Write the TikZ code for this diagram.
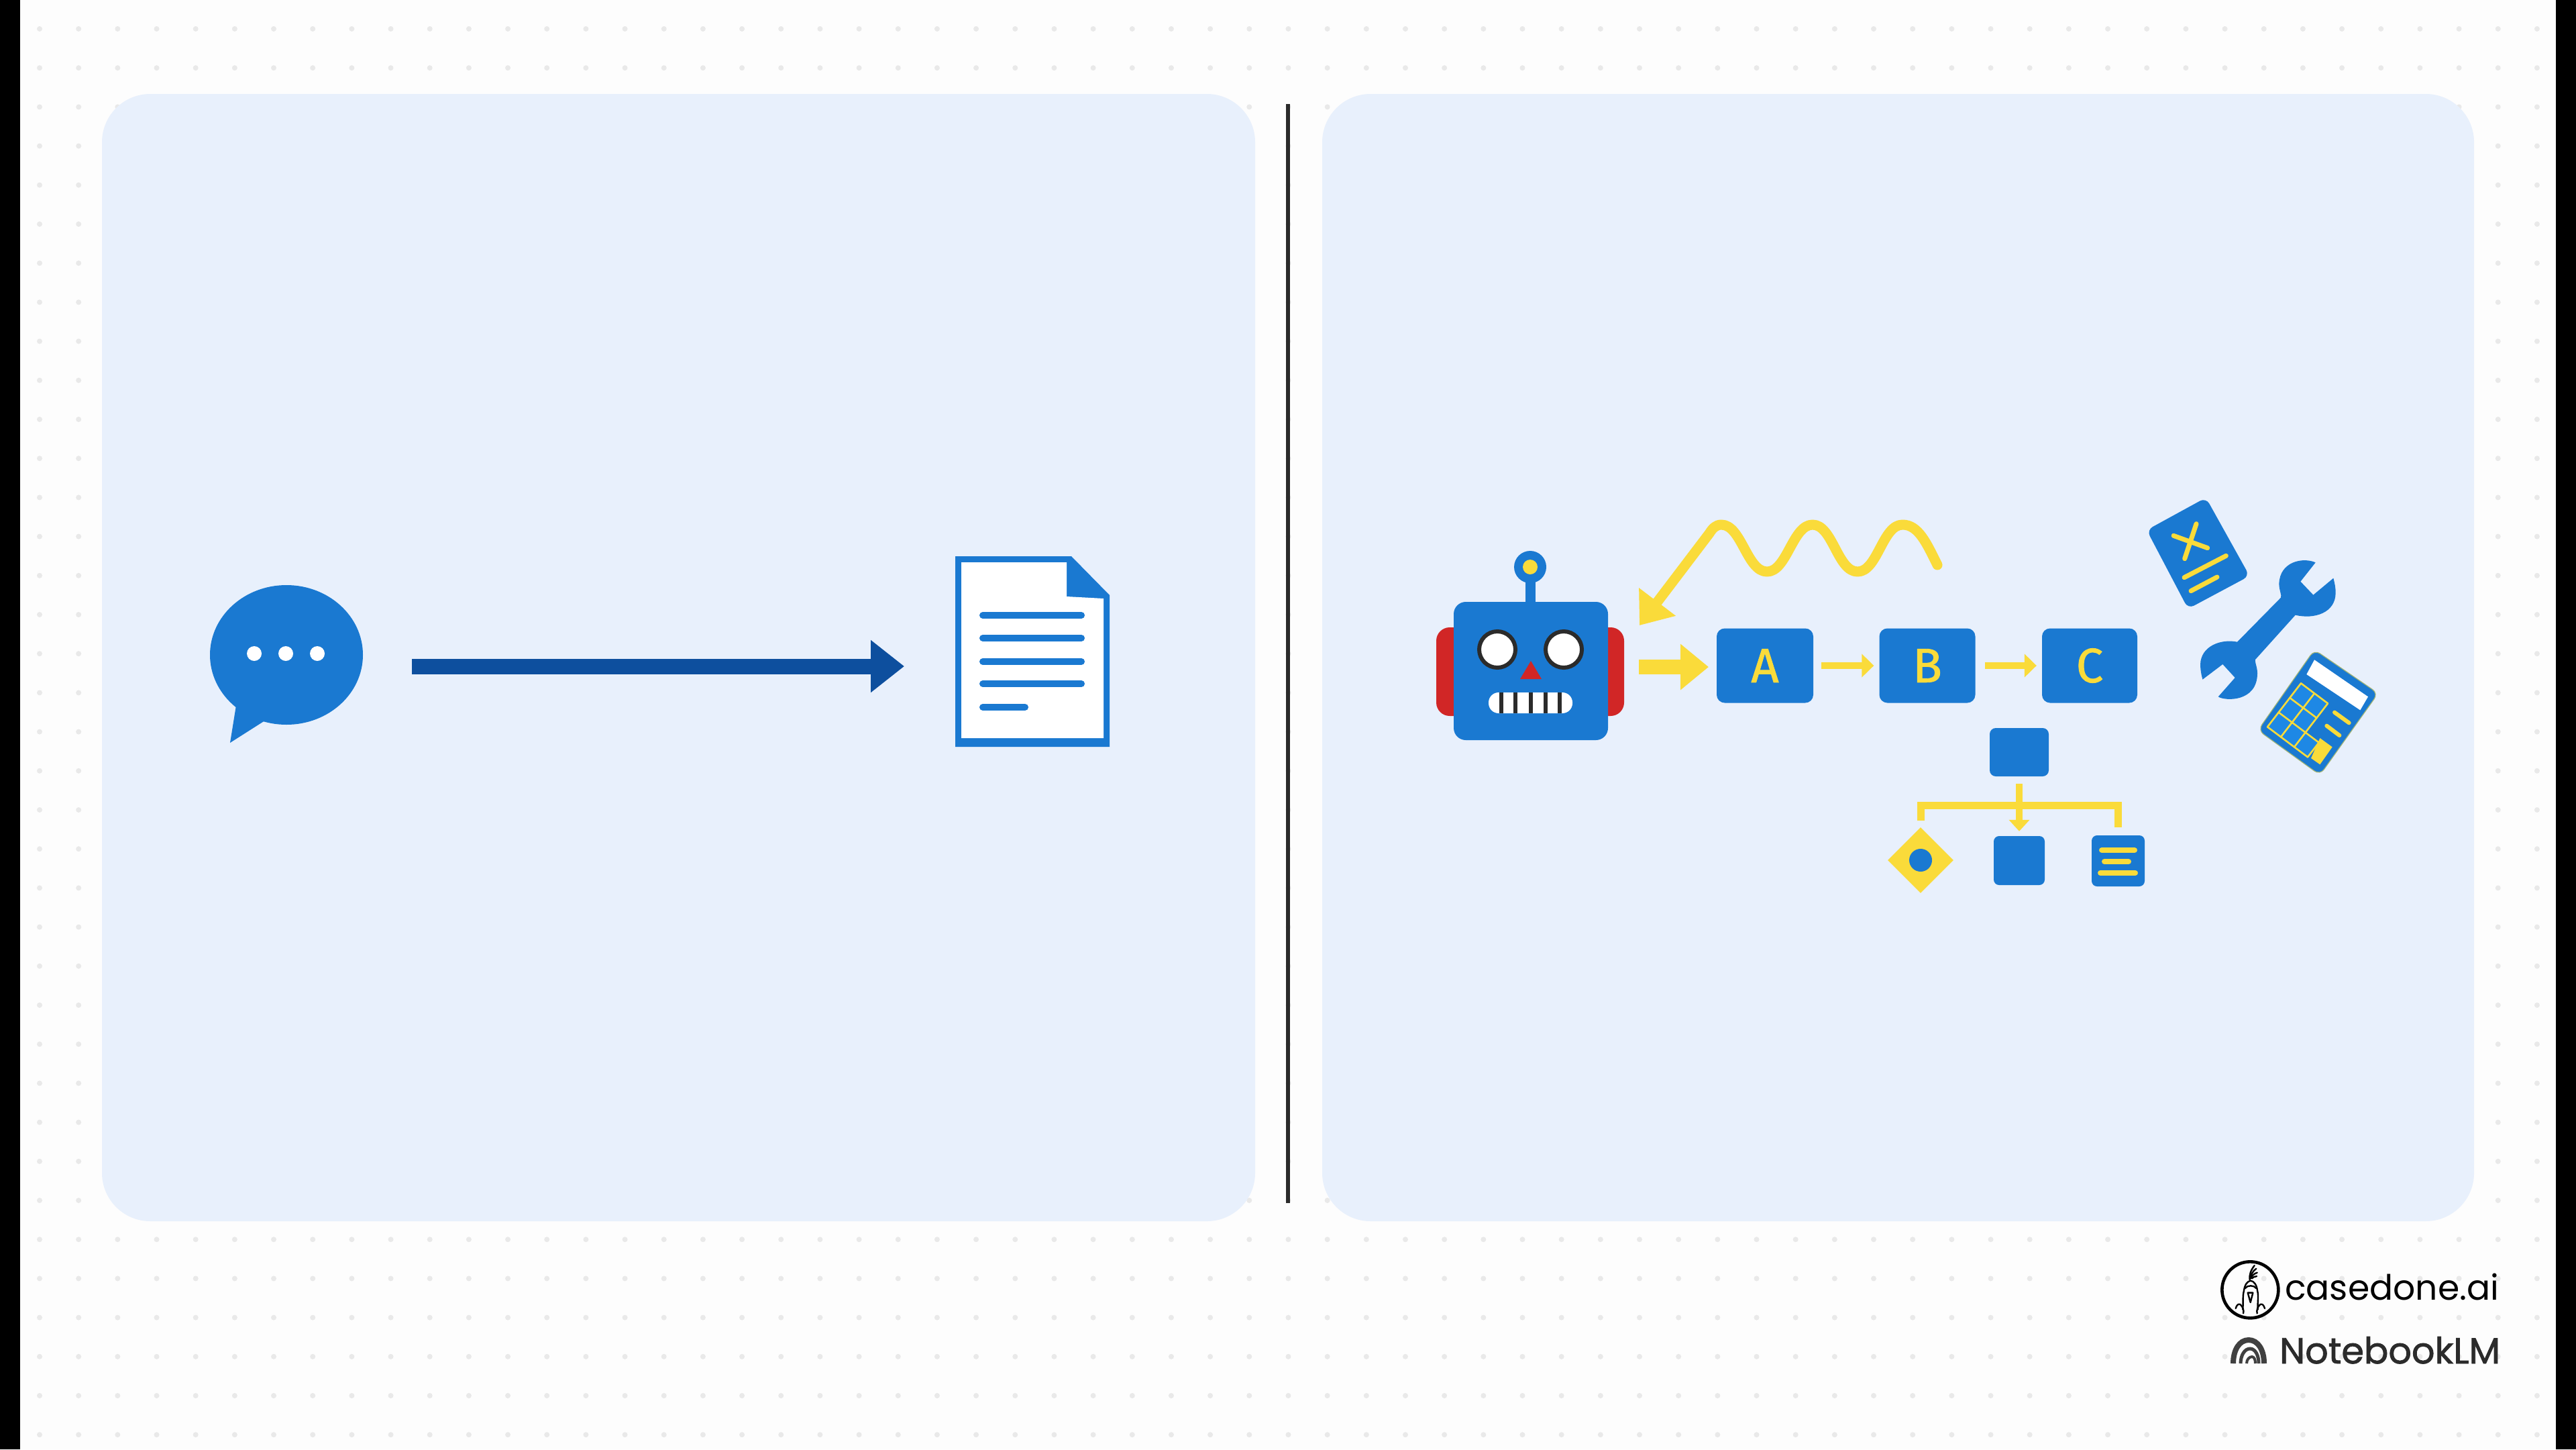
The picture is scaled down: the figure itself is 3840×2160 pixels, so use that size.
\documentclass[tikz,border=0pt]{standalone}
\usepackage{fontspec}
\usetikzlibrary{arrows.meta,shapes.geometric,calc}
\newfontfamily\boxfont[FakeBold=1.2]{Fira Sans}
\newfontfamily\brandfont{Poppins}
\newfontfamily\nlmfont[FakeBold=1.5]{Poppins}
\definecolor{pagebg}{HTML}{FDFDFD}
\definecolor{griddot}{HTML}{E9E9E9}
\definecolor{panelbg}{HTML}{E8F0FC}
\definecolor{iconblue}{HTML}{1A79D1}
\definecolor{keyblue}{HTML}{1E88E5}
\definecolor{deepblue}{HTML}{0D4F9E}
\definecolor{sun}{HTML}{FADB3A}
\definecolor{robotred}{HTML}{D12626}
\definecolor{inkdark}{HTML}{2B2B2B}
\tikzset{
  panelbox/.style={fill=panelbg,rounded corners=72pt},
  bluebox/.style={fill=iconblue,rounded corners=12pt,inner sep=0pt,text=sun},
  deeparrow/.style={draw=deepblue,line width=23pt,-{Triangle[length=50pt,width=75pt]}},
  sunarrow/.style={draw=sun,line width=22pt,-{Triangle[length=42pt,width=66pt]}},
  smallarrow/.style={draw=sun,line width=10pt,-{Triangle[length=18pt,width=34pt]}},
  busline/.style={draw=sun,line width=11pt},
  wavy/.style={draw=sun,line width=15pt,line cap=round,line join=round,-{Triangle[length=44pt,width=66pt]}},
  barline/.style={draw=sun,line width=8pt,line cap=round},
  gridkey/.style={draw=sun,line width=2.6pt,line cap=round},
  logoline/.style={draw=black,line width=2.4pt,line join=round,line cap=round},
  nlmarc/.style={draw=inkdark!90,line cap=butt},
  doctext/.style={draw=iconblue,line width=10pt,line cap=round},
  boxletter/.style={font=\boxfont\fontsize{72}{80}\selectfont}
}
\begin{document}
\begin{tikzpicture}[x=1pt,y=-1pt]
\useasboundingbox (0,0) rectangle (3840,2160);
\fill[pagebg] (0,0) rectangle (3840,2160);
\foreach \i in {0,...,64}{\foreach \j in {0,...,36}{
  \fill[griddot] ({59+58.17*\i},{43+58.2*\j}) circle[radius=4pt];}}
\fill[black] (0,0) rectangle (30,2160);
\fill[black] (3810,0) rectangle (3840,2160);
% panels
\path[panelbox] (152,140) rectangle (1871,1820);
\path[panelbox] (1971,140) rectangle (3688,1820);
\draw[inkdark,line width=6.5pt] (1920,155) -- (1920,1793);
% chat bubble
\fill[iconblue] (353,1045) -- (343,1107) -- (398,1072) -- cycle;
\node[ellipse,fill=iconblue,inner sep=0pt,minimum width=228pt,minimum height=208pt] (bubble) at (427,976) {};
\foreach \x in {379,426,473}{\fill[white] (\x,974) circle[radius=11pt];}
% document
\fill[iconblue] (1424,829) -- (1597,829) -- (1654,887) -- (1654,1113) -- (1424,1113) -- cycle;
\fill[white] (1433,838) -- (1590,838) -- (1590,889) -- (1645,892) -- (1645,1100) -- (1433,1100) -- cycle;
\foreach \y in {917,951,986,1019}{\draw[doctext] (1465,\y) -- (1612,\y);}
\draw[doctext] (1465,1054) -- (1528,1054);
\coordinate (chatout) at (614,993);
\coordinate (docin) at (1348,993);
\draw[deeparrow] (chatout) -- (docin);
% robot
\fill[robotred,rounded corners=20pt] (2141,935) rectangle (2421,1067);
\draw[iconblue,line width=15pt] (2281,865) -- (2281,900);
\node[fill=iconblue,rounded corners=18pt,inner sep=0pt,minimum width=230pt,minimum height=206pt] (robot) at (2282,1000) {};
\fill[iconblue] (2281,845) ellipse[x radius=24pt,y radius=24pt];
\fill[sun] (2281,845) ellipse[x radius=11pt,y radius=11pt];
\foreach \x in {2232,2331}{\fill[white,draw=inkdark,line width=6pt] (\x,968) circle[radius=27pt];}
\fill[robotred] (2282,985) -- (2298,1012) -- (2266,1012) -- cycle;
\fill[white,rounded corners=15pt] (2219,1032) rectangle (2344,1063);
\foreach \x in {2238,2259,2282,2304,2325}{\draw[inkdark,line width=6.5pt] (\x,1032) -- (\x,1063);}
% process
\node[bluebox,boxletter,minimum width=144pt,minimum height=111pt] (boxA) at (2631,992) {A};
\node[bluebox,boxletter,minimum width=143pt,minimum height=111pt] (boxB) at (2873,992) {B};
\node[bluebox,boxletter,minimum width=142pt,minimum height=111pt] (boxC) at (3115,992) {C};
\coordinate (robotout) at (2443,994);
\coordinate (robotarrowtip) at (2547,994);
\draw[sunarrow] (robotout) -- (robotarrowtip);
\draw[smallarrow,shorten <=12pt,shorten >=8pt] (boxA) -- (boxB);
\draw[smallarrow,shorten <=14pt,shorten >=8pt] (boxB) -- (boxC);
% wave
\coordinate (wavestart) at (2888,842);
\coordinate (waveend) at (2444,932);
\draw[wavy] (wavestart) .. controls (2872,810) and (2860,782) .. (2836,782)
  .. controls (2806,782) and (2799,852) .. (2769,852)
  .. controls (2739,852) and (2732,782) .. (2702,782)
  .. controls (2672,782) and (2664,852) .. (2634,852)
  .. controls (2604,852) and (2596,782) .. (2566,782)
  .. controls (2558,782) and (2553,787) .. (2548,795) -- (waveend);
% flow
\node[fill=iconblue,rounded corners=9pt,inner sep=0pt,minimum width=88pt,minimum height=72pt] (topbox) at (3010,1121) {};
\node[diamond,fill=sun,inner sep=0pt,minimum width=98pt,minimum height=98pt] (choice) at (2863,1282) {};
\fill[iconblue] (choice) circle[radius=17pt];
\node[fill=iconblue,rounded corners=8pt,inner sep=0pt,minimum width=76pt,minimum height=73pt] (midbox) at (3010,1282.5) {};
\node[fill=iconblue,rounded corners=8pt,inner sep=0pt,minimum width=79pt,minimum height=76pt] (listbox) at (3157.5,1283) {};
\draw[barline] (3133,1267) -- (3182,1267);
\draw[barline] (3137,1284) -- (3173,1284);
\draw[barline] (3131,1301) -- (3183,1301);
\coordinate (busmid) at (3010,1200);
\draw[busline,shorten <=10pt,shorten >=12pt] (choice.north) |- (busmid) -| (listbox.north);
\draw[draw=sun,line width=10pt,-{Triangle[length=17pt,width=30pt]},shorten <=11pt,shorten >=7pt] (topbox) -- (midbox);
% tools
\begin{scope}[shift={(3150,700)},x=.33333pt,y=-.33333pt]
  % formula card
  \fill[iconblue,rounded corners=10pt] (150,270) -- (415,125) -- (610,475) -- (335,622) -- cycle;
  \draw[sun,line width=7pt,line cap=round] (270,295) -- (422,350);
  \draw[sun,line width=7pt,line cap=round] (372,242) -- (320,398);
  \draw[sun,line width=7pt,line cap=round] (318,482) -- (505,385);
  \draw[sun,line width=7pt,line cap=round] (348,542) -- (465,480);
  % wrench
  \fill[iconblue] (905,415) .. controls (850,390) and (745,410) .. (742,510)
    .. controls (742,540) and (755,560) .. (750,572) -- (555,770)
    .. controls (480,755) and (392,790) .. (390,870)
    .. controls (390,895) and (395,920) .. (400,938) -- (490,870) -- (545,930) -- (470,1015)
    .. controls (500,1035) and (645,1040) .. (645,910)
    .. controls (645,885) and (635,865) .. (635,850) -- (815,650)
    .. controls (900,670) and (995,640) .. (995,550)
    .. controls (995,525) and (990,505) .. (985,485) -- (895,560) -- (838,500) -- cycle;
  % calculator
  \fill[iconblue,draw=sun!60!iconblue,line width=1.2pt,rounded corners=10pt] (900,805) -- (1185,1000) -- (925,1365) -- (648,1165) -- cycle;
  \fill[white] (900,850) -- (1140,1015) -- (1105,1075) -- (865,915) -- cycle;
  \fill[keyblue] (840,955) -- (960,1045) -- (860,1175) -- (920,1220) -- (870,1285) -- (690,1150) -- cycle;
  \draw[gridkey] (840,955) -- (690,1150);
  \draw[gridkey] (900,1000) -- (750,1195);
  \draw[gridkey] (960,1045) -- (810,1240);
  \draw[gridkey] (920,1220) -- (870,1285);
  \draw[gridkey] (840,955) -- (960,1045);
  \draw[gridkey] (790,1020) -- (910,1110);
  \draw[gridkey] (740,1085) -- (920,1220);
  \draw[gridkey] (690,1150) -- (870,1285);
  \draw[sun,line width=6pt,line cap=round] (990,1085) -- (1055,1132);
  \draw[sun,line width=6pt,line cap=round] (955,1145) -- (1012,1188);
  \fill[sun] (925,1200) -- (980,1240) -- (925,1318) -- (885,1290) -- cycle;
\end{scope}
% casedone logo
\begin{scope}[shift={(3310,1870)},x=.33333pt,y=-.33333pt]
  \draw[black,line width=4.6pt] (133,157) circle[radius=42pt];
  \draw[logoline] (100,245) .. controls (102,205) and (98,190) .. (105,160) .. controls (108,135) and (120,118) .. (135,116) .. controls (150,118) and (162,135) .. (165,160) .. controls (172,190) and (165,205) .. (167,245);
  \draw[logoline] (110,150) .. controls (120,135) and (150,135) .. (160,150);
  \draw[logoline] (122,170) -- (145,170) -- (134,213) -- cycle;
  \draw[logoline] (68,240) .. controls (72,225) and (80,218) .. (88,222) .. controls (100,232) and (106,250) .. (102,262);
  \draw[logoline] (198,240) .. controls (194,225) and (186,218) .. (178,222) .. controls (166,232) and (160,250) .. (164,262);
  \draw[logoline] (131,112) .. controls (128,90) and (135,70) .. (152,48);
  \draw[logoline] (135,105) .. controls (135,90) and (145,72) .. (160,62);
  \draw[logoline] (137,105) .. controls (140,95) and (148,85) .. (164,80);
  \draw[logoline] (140,106) .. controls (145,100) and (152,98) .. (162,96);
\end{scope}
\node[anchor=base west,inner sep=0pt,text=black,font=\brandfont\fontsize{52}{60}\selectfont] (brand) at (3406,1937) {casedone.ai};
% NotebookLM logo
\draw[nlmarc,line width=8pt] (3329,2032) .. controls (3329,2012) and (3338,1997) .. (3352,1997) .. controls (3366,1997) and (3375,2012) .. (3375,2032);
\draw[nlmarc,line width=5pt] (3340,2032) .. controls (3340,2020) and (3346,2010) .. (3354,2010) .. controls (3362,2010) and (3367,2020) .. (3367,2032);
\draw[nlmarc,line width=4pt] (3349,2032) .. controls (3349,2026) and (3353,2022) .. (3357,2022) .. controls (3360,2022) and (3362,2026) .. (3362,2032);
\node[anchor=base west,inner sep=0pt,text=inkdark,font=\nlmfont\fontsize{54}{60}\selectfont] (nlm) at (3398,2032) {NotebookLM};
\end{tikzpicture}
\end{document}
